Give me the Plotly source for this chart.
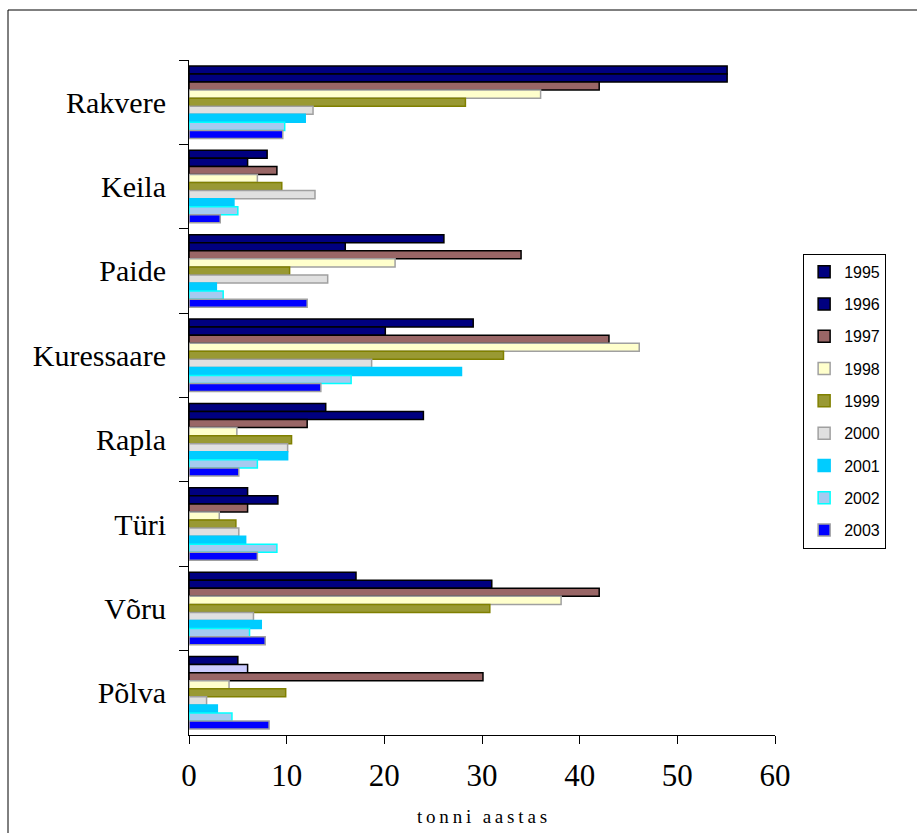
import plotly.graph_objects as go

# Towns, listed top to bottom
towns = ["Rakvere", "Keila", "Paide", "Kuressaare", "Rapla", "Türi", "Võru", "Põlva"]
years = ["1995", "1996", "1997", "1998", "1999", "2000", "2001", "2002", "2003"]

# Amount per town and year (tonnes per year)
v1995 = [55.1, 8.0, 26.1, 29.1, 14.0, 6.0, 17.1, 5.0]
v1996 = [55.1, 6.0, 16.0, 20.1, 24.0, 9.1, 31.0, 6.0]
v1997 = [42.0, 9.0, 34.0, 43.0, 12.1, 6.0, 42.0, 30.1]
v1998 = [36.0, 7.0, 21.1, 46.1, 4.9, 3.1, 38.1, 4.1]
v1999 = [28.3, 9.5, 10.3, 32.2, 10.5, 4.8, 30.8, 9.9]
v2000 = [12.7, 12.9, 14.2, 18.7, 10.1, 5.1, 6.6, 1.8]
v2001 = [11.9, 4.6, 2.8, 27.9, 10.1, 5.8, 7.4, 2.9]
v2002 = [9.8, 5.0, 3.5, 16.6, 7.0, 9.0, 6.2, 4.4]
v2003 = [9.6, 3.2, 12.1, 13.5, 5.1, 7.0, 7.8, 8.2]

series = [v1995, v1996, v1997, v1998, v1999, v2000, v2001, v2002, v2003]

fills = ["#000080", "#000080", "#996666", "#FFFFCC", "#999933",
         "#E0E0E0", "#00CCFF", "#A6CAF0", "#0000FF"]
edges = ["#000000", "#000000", "#000000", "#A0A0A0", "#808000",
         "#A0A0A0", "#00CCFF", "#00FFFF", "#A0A0A0"]

fig = go.Figure()
for i, (yr, vals) in enumerate(zip(years, series)):
    color = fills[i]
    if yr == "1996":
        # Põlva's 1996 bar is drawn in a lighter lavender
        color = [fills[i]] * (len(towns) - 1) + ["#CCCCFF"]
    fig.add_trace(go.Bar(
        y=towns, x=vals, name=yr, orientation="h",
        legendgroup=yr,
        marker=dict(color=color, line=dict(color=edges[i], width=1.5)),
    ))

serif = "Liberation Serif, Times New Roman, serif"
thin = "\u2009"
axis_title = (thin * 3).join(thin.join(word) for word in "tonni aastas".split())

fig.update_layout(
    width=917, height=833,
    margin=dict(l=189, r=142, t=60, b=98),
    paper_bgcolor="white", plot_bgcolor="white",
    barmode="group", bargap=0.14, bargroupgap=0,
    font=dict(family=serif, color="black"),
    showlegend=True,
    legend=dict(
        x=1.048, y=0.713, xanchor="left", yanchor="top",
        bordercolor="black", borderwidth=1, bgcolor="white",
        font=dict(family="Liberation Sans, Arial, sans-serif", size=16),
        traceorder="grouped", tracegroupgap=8.5,
        itemwidth=30,
    ),
    xaxis=dict(
        range=[0, 60], tickvals=[0, 10, 20, 30, 40, 50, 60],
        automargin=False,
        showgrid=False, zeroline=False,
        showline=True, linecolor="black", linewidth=1,
        ticks="outside", ticklen=8, tickcolor="black",
        tickfont=dict(family=serif, size=31),
        ticklabelstandoff=5,
        title=dict(text=axis_title,
                   font=dict(family=serif, size=19), standoff=17),
    ),
    yaxis=dict(
        autorange="reversed",
        automargin=False,
        showgrid=False, zeroline=False,
        showline=True, linecolor="black", linewidth=1,
        ticks="outside", ticklen=9, tickcolor="black",
        tickson="boundaries",
        tickfont=dict(family=serif, size=30),
        ticklabelstandoff=16,
    ),
    shapes=[
        dict(type="line", xref="paper", yref="paper",
             x0=-181 / 586, x1=1.25, y0=1 + 50 / 675, y1=1 + 50 / 675,
             line=dict(color="black", width=1)),
        dict(type="line", xref="paper", yref="paper",
             x0=-181 / 586, x1=-181 / 586, y0=1 + 50 / 675, y1=-0.2,
             line=dict(color="black", width=1)),
    ],
)

fig.write_html("out.html")
